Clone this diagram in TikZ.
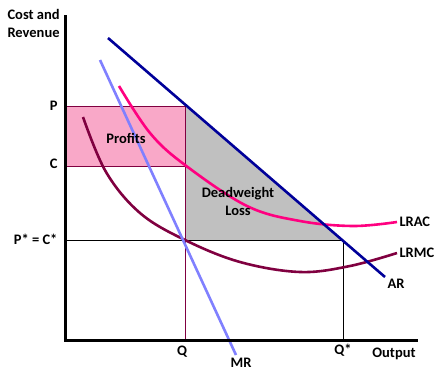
\documentclass[tikz,border=0pt]{standalone}
\usepackage{fontspec}
\setmainfont{Carlito}
\usepackage{xcolor}
\usepackage{tikz}

\definecolor{arblue}{HTML}{000099}
\definecolor{mrblue}{HTML}{8080FF}
\definecolor{acpink}{HTML}{FF0080}
\definecolor{mcred}{HTML}{800040}
\definecolor{profitfill}{HTML}{F9A8C8}
\definecolor{dwlgray}{HTML}{C0C0C0}

\begin{document}
\begin{tikzpicture}[x=1pt, y=-1pt,
    lbl/.style={font=\fontsize{14.5}{18}\selectfont\bfseries},
    curve/.style={line width=2.6pt}]
    \useasboundingbox (0,0) rectangle (434,375);
    % key points
    \coordinate (O) at (65,340);
    \coordinate (Pm) at (185,106);
    \coordinate (Cm) at (185,166);
    \coordinate (E) at (185,240);
    \coordinate (Ec) at (343,240);
    \coordinate (Qc) at (343,340);
    % areas
    \fill[profitfill] (65,106) rectangle (Cm);
    \fill[dwlgray] (Pm) -- (E) -- (Ec) -- cycle;
    \draw[mcred] (65,106) rectangle (185,340);
    \draw[mcred] (65,166) -- (Cm);
    \draw (65,240) -- (Ec) -- (Qc);
    % curves
    \draw[curve, mcred] plot[smooth, tension=0.6] coordinates {(83,117) (106,172) (140,213) (185,240) (240,262) (300,272) (350,266) (397,253)};
    \draw[curve, acpink] plot[smooth, tension=0.6] coordinates {(119,86) (150,133) (185,165) (247,206) (300,221) (353,226) (397,222)};
    \draw[curve, mrblue] (100,60) -- (236,355);
    \draw[curve, arblue] (108,38) -- (385,277);
    % axes
    \draw[line width=3pt] (65,15) -- (O) -- (418,340);
    % labels
    \node[lbl, anchor=west, align=left] at (4,23) {Cost and\\Revenue};
    \node[lbl, anchor=east] at (61,106) {P};
    \node[lbl, anchor=east] at (61,164) {C};
    \node[lbl, anchor=east] at (61,239) {P* = C*};
    \node[lbl] at (182,352) {Q};
    \node[lbl] at (241,363) {MR};
    \node[lbl] at (343,350) {Q*};
    \node[lbl] at (394,354) {Output};
    \node[lbl, anchor=west] at (396,222) {LRAC};
    \node[lbl, anchor=west] at (396,253) {LRMC};
    \node[lbl] at (396,284) {AR};
    \node[lbl] at (126,138) {Profits};
    \node[lbl, align=center] at (238,201) {Deadweight\\Loss};
\end{tikzpicture}
\end{document}
